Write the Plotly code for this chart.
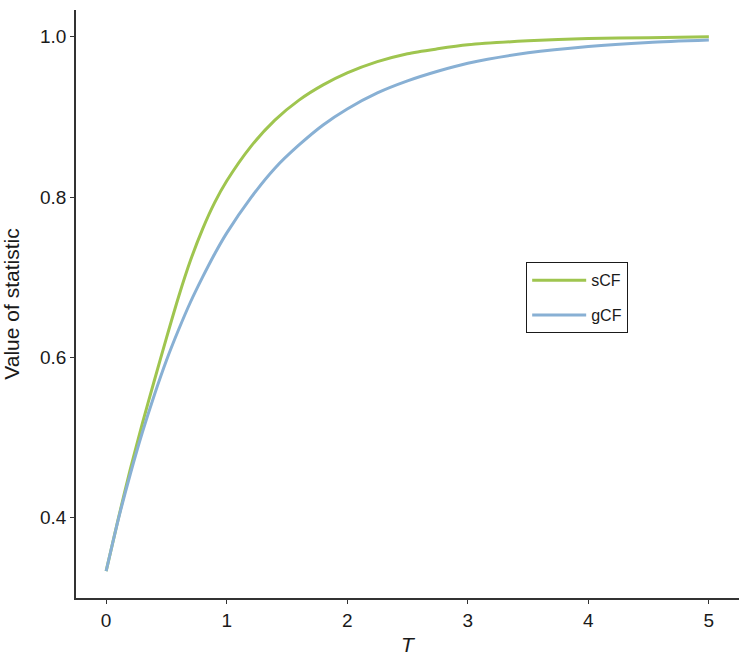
import plotly.graph_objects as go

T_vals = [0, 0.1, 0.2, 0.3, 0.4, 0.5, 0.6, 0.7, 0.8, 0.9, 1.0, 1.2, 1.4, 1.6, 1.8,
          2.0, 2.25, 2.5, 2.75, 3.0, 3.5, 4.0, 4.5, 5.0]
sCF = [0.333, 0.398, 0.460, 0.517, 0.571, 0.624, 0.675, 0.721, 0.760, 0.793, 0.820,
       0.863, 0.896, 0.921, 0.940, 0.955, 0.969, 0.979, 0.985, 0.990, 0.995, 0.998,
       0.999, 1.000]
gCF = [0.333, 0.397, 0.454, 0.506, 0.553, 0.596, 0.634, 0.669, 0.700, 0.729, 0.755,
       0.799, 0.836, 0.865, 0.890, 0.910, 0.930, 0.945, 0.957, 0.967, 0.980, 0.988,
       0.993, 0.996]
x_ticks = [0, 1, 2, 3, 4, 5]
y_ticks = [0.4, 0.6, 0.8, 1.0]
y_tick_text = ["0.4", "0.6", "0.8", "1.0"]

FONT = "Liberation Sans, Arial, sans-serif"

fig = go.Figure()
fig.add_trace(go.Scatter(x=T_vals, y=sCF, mode="lines", name="sCF",
                         line=dict(color="#9fc54f", width=3, shape="spline", smoothing=0.7),
                         legendgroup="s"))
fig.add_trace(go.Scatter(x=T_vals, y=gCF, mode="lines", name="gCF",
                         line=dict(color="#88b0d4", width=3, shape="spline", smoothing=0.7),
                         legendgroup="g"))

fig.update_layout(
    width=750, height=664,
    margin=dict(l=76, r=11, t=10, b=66, autoexpand=False),
    paper_bgcolor="white", plot_bgcolor="white",
    font=dict(family=FONT, color="#1a1a1a"),
    legend=dict(x=0.679, y=0.571, xanchor="left", yanchor="top",
                bordercolor="#1a1a1a", borderwidth=1, bgcolor="white",
                font=dict(size=16, family=FONT, color="#1a1a1a"),
                tracegroupgap=11, itemwidth=54),
    xaxis=dict(range=[-0.25, 5.25], tickvals=x_ticks, showgrid=False, zeroline=False,
               showline=True, linecolor="#333333", linewidth=1.5,
               ticks="outside", ticklen=4, tickcolor="#333333", tickwidth=1.2,
               tickfont=dict(size=19, family=FONT, color="#1a1a1a"),
               automargin=False,
               title=dict(text="<i>T</i>", font=dict(size=21, family=FONT), standoff=8)),
    yaxis=dict(range=[0.2995, 1.0335], tickvals=y_ticks, ticktext=y_tick_text,
               showgrid=False, zeroline=False,
               showline=True, linecolor="#333333", linewidth=1.5,
               ticks="outside", ticklen=4, tickcolor="#333333", tickwidth=1.2,
               tickfont=dict(size=19, family=FONT, color="#1a1a1a"),
               automargin=False,
               title=dict(text="Value of statistic", font=dict(size=21, family=FONT), standoff=18)),
)

fig.write_html("out.html", config={"displayModeBar": False},
               post_script="document.body.style.margin='0';")
